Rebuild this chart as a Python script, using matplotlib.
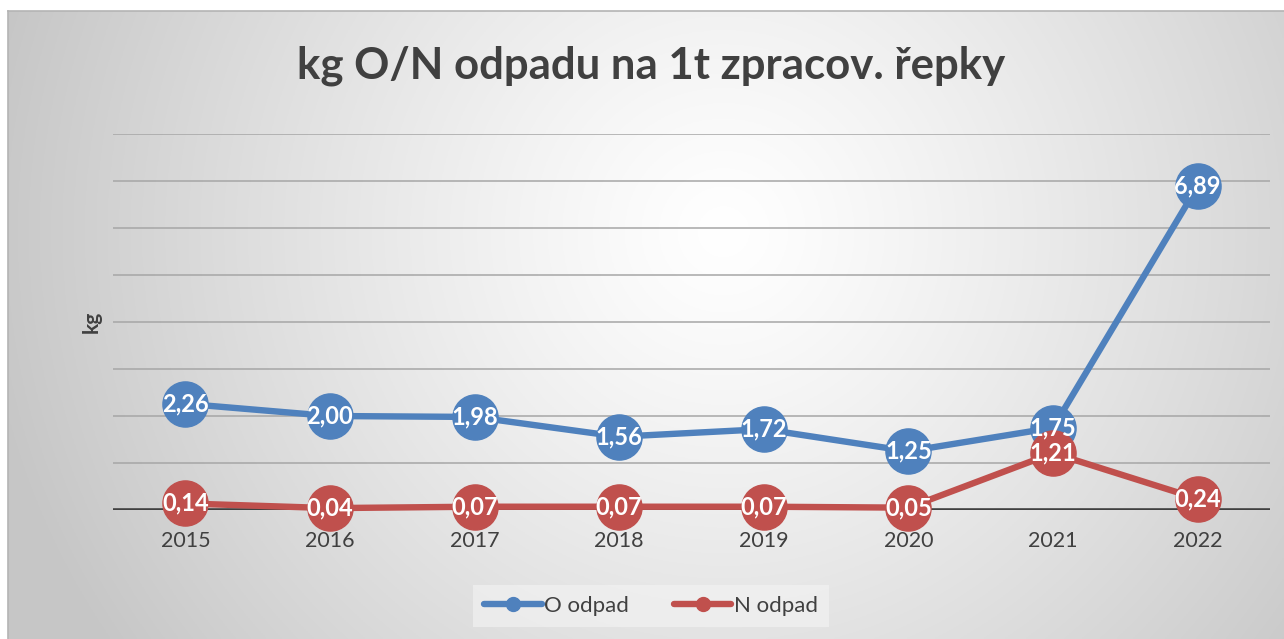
import numpy as np
import matplotlib
matplotlib.use("Agg")
import matplotlib.pyplot as plt
from matplotlib.lines import Line2D

# data
years = ["2015", "2016", "2017", "2018", "2019", "2020", "2021", "2022"]
o_odpad = [2.26, 2.00, 1.98, 1.56, 1.72, 1.25, 1.75, 6.89]
n_odpad = [0.14, 0.04, 0.07, 0.07, 0.07, 0.05, 1.21, 0.24]

BLUE = "#4F81BD"
RED = "#C0504D"
TXT = "#404040"

plt.rcParams['font.family'] = ['Lato', 'DejaVu Sans']

W, H = 1284, 639
fig = plt.figure(figsize=(W / 100, H / 100), dpi=100)
fig.patch.set_facecolor("white")

# ---- background: radial grey gradient with frame ----
bg = fig.add_axes([8 / W, 0, 1 - 8 / W, 1 - 11 / H])
ny, nx = 300, 600
yy, xx = np.mgrid[0:ny, 0:nx]
cx, cy = 0.56 * nx, 0.35 * ny
r = np.sqrt(((xx - cx) / nx) ** 2 + ((yy - cy) / ny * 0.5) ** 2)
val = 1.0 - 0.22 * np.clip(r / 0.58, 0, 1) ** 1.2
img = np.dstack([val, val, val])
bg.imshow(img, aspect="auto", extent=[0, 1, 0, 1], origin="upper")
bg.set_xlim(0, 1)
bg.set_ylim(0, 1)
bg.set_xticks([])
bg.set_yticks([])
for s in bg.spines.values():
    s.set_color("#b4b4b4")
    s.set_linewidth(1.2)
bg.spines["right"].set_visible(False)
bg.spines["bottom"].set_visible(False)

# ---- main axes ----
ax = fig.add_axes([113 / W, (H - 510) / H, (1270 - 113) / W, (510 - 134) / H])
ax.set_facecolor("none")
x = np.arange(len(years))

for yv in range(1, 9):
    ax.axhline(yv, color="#a6a6a6", lw=1.1, zorder=1)
ax.axhline(0, color="#404040", lw=2.6, zorder=2)

ax.plot(x, o_odpad, color=BLUE, lw=4.6, marker="o", ms=32.5,
        solid_capstyle="round", zorder=3, clip_on=False)
ax.plot(x, n_odpad, color=RED, lw=4.6, marker="o", ms=32.5,
        solid_capstyle="round", zorder=4, clip_on=False)

for xi, v in zip(x, o_odpad):
    ax.text(xi, v, f"{v:.2f}".replace(".", ","), color="white", fontsize=17,
            fontweight="bold", ha="center", va="center", zorder=6)
for xi, v in zip(x, n_odpad):
    ax.text(xi, v, f"{v:.2f}".replace(".", ","), color="white", fontsize=17,
            fontweight="bold", ha="center", va="center", zorder=6)

ax.set_xlim(-0.5, len(years) - 0.5)
ax.set_ylim(0, 8)
ax.set_xticks(x)
ax.set_xticklabels(years, fontsize=15.5, color=TXT)
ax.tick_params(axis="x", length=0, pad=15)
ax.set_yticks([])
for s in ax.spines.values():
    s.set_visible(False)
ax.set_ylabel("kg", fontsize=15, fontweight="bold", color=TXT, labelpad=8)

fig.text(651 / W, 1 - 66 / H, "kg O/N odpadu na 1t zpracov. řepky",
         ha="center", va="center", fontsize=31.5, fontweight="bold", color=TXT)

# ---- legend ----
handles = [
    Line2D([0], [0], color=BLUE, lw=4.6, marker="o", ms=10, solid_capstyle="round"),
    Line2D([0], [0], color=RED, lw=4.6, marker="o", ms=10, solid_capstyle="round"),
]
leg = fig.legend(handles, ["O odpad", "N odpad"], loc="center",
                 bbox_to_anchor=(651 / W, 1 - 606 / H), ncol=2, frameon=True,
                 fontsize=16, handlelength=2.6, handletextpad=0.1,
                 columnspacing=2.0, borderpad=0.5, fancybox=False)
leg.get_frame().set_facecolor("#f4f4f4")
leg.get_frame().set_alpha(0.6)
leg.get_frame().set_edgecolor("none")
for t in leg.get_texts():
    t.set_color(TXT)

fig.savefig("out.png", dpi=100)
